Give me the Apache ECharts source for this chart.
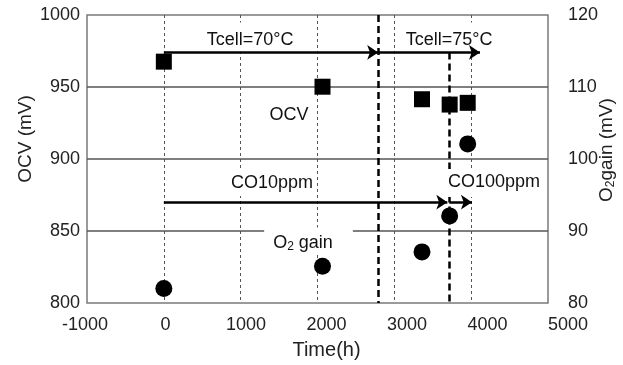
<!DOCTYPE html>
<html>
<head>
<meta charset="utf-8">
<script src="https://cdn.jsdelivr.net/npm/echarts@6/dist/echarts.min.js"></script>
<style>
  html, body { margin: 0; padding: 0; background: #fff; }
  #chart { width: 623px; height: 365px; }
</style>
</head>
<body>
<div id="chart"></div>
<script>
// ---------- data ----------
const hours = [0, 2065, 3360, 3720, 3955];
const ocvValues = [967.6, 950.2, 941.5, 937.8, 939.0];      // mV, left axis
const o2GainValues = [82.0, 85.1, 87.1, 92.1, 102.1];       // mV, right axis
const phaseLines = [2790, 3715];                            // thick dashed markers (h)
const tempArrows = [[0, 2790], [2790, 4115]];
const tempArrowLevel = 974;
const coArrows = [[0, 3690], [3715, 4010]];
const coArrowLevel = 870;
const noteTexts = ['Tcell=70°C', 'Tcell=75°C', 'OCV', 'CO10ppm', 'CO100ppm', 'O{sub|2} gain'];
const noteAnchors = [[1122, 984.7], [3712, 984.7], [1630, 930.6], [1408, 883.3], [4298, 883.3], [1883, 843.1]];

const FONT = '"Liberation Sans", Arial, sans-serif';
const INK = '#111';

const chart = echarts.init(document.getElementById('chart'), null, { renderer: 'canvas' });

// white boxes behind some notes hide the grid lines, like the original
const noteBoxes = [
  { backgroundColor: '#fff', padding: [8, 3, 3, 3] },
  { backgroundColor: '#fff', padding: [8, 4, 3, 4] },
  {},
  { backgroundColor: '#fff', padding: [4, 3, 4, 3] },
  { backgroundColor: '#fff', padding: [4, 3, 6, 3] },
  { backgroundColor: '#fff', padding: [6, 20, 2, 9] }
];

const plainNum = v => String(v);

const option = {
  animation: false,
  grid: [
    { left: 87, right: 75, top: 15, bottom: 62, show: true, borderColor: '#7a7a7a', borderWidth: 1.5, backgroundColor: 'transparent' },
    { left: 85, right: 55, top: 15, bottom: 62 }
  ],
  xAxis: [
    {
      gridIndex: 0, type: 'value', min: -1000, max: 5000, interval: 1000,
      axisLine: { show: false }, axisTick: { show: false }, axisLabel: { show: false },
      splitLine: { show: true, showMinLine: false, showMaxLine: false, lineStyle: { color: '#555', width: 1, type: [3, 3] } }
    },
    {
      gridIndex: 1, type: 'value', min: -1000, max: 5000, interval: 1000,
      axisLine: { show: false }, axisTick: { show: false }, splitLine: { show: false },
      axisLabel: { margin: 14, fontSize: 18, color: '#222', fontFamily: FONT, formatter: plainNum },
      name: 'Time(h)', nameLocation: 'middle', nameGap: 38,
      nameTextStyle: { fontSize: 20, color: '#222', fontFamily: FONT }
    }
  ],
  yAxis: [
    {
      gridIndex: 0, type: 'value', min: 800, max: 1000, interval: 50,
      axisLine: { show: false }, axisTick: { show: false },
      axisLabel: { margin: 7, fontSize: 18, color: '#222', fontFamily: FONT, formatter: plainNum },
      splitLine: { show: true, showMinLine: false, showMaxLine: false, lineStyle: { color: '#555', width: 1.5 } }
    },
    {
      gridIndex: 0, type: 'value', position: 'right', min: 80, max: 120, interval: 10,
      axisLine: { show: false }, axisTick: { show: false }, splitLine: { show: false },
      axisLabel: { margin: 20, fontSize: 18, color: '#222', fontFamily: FONT, formatter: plainNum }
    },
    { gridIndex: 1, type: 'value', min: 0, max: 1, show: false }
  ],
  graphic: [
    {
      type: 'text', x: 26, y: 139, rotation: Math.PI / 2,
      style: { text: 'OCV (mV)', fontSize: 19, fontFamily: FONT, fill: '#222', align: 'center', verticalAlign: 'middle' }
    },
    {
      type: 'text', x: 607, y: 150, rotation: Math.PI / 2,
      style: {
        text: 'O{s|2}gain (mV)', fontSize: 19, fontFamily: FONT, fill: '#222', align: 'center', verticalAlign: 'middle',
        rich: { s: { fontSize: 12, fontFamily: FONT, fill: '#222', verticalAlign: 'bottom', padding: [7, 0, 0, 0] } }
      }
    }
  ],
  series: [
    {
      name: 'OCV', type: 'scatter', xAxisIndex: 0, yAxisIndex: 0, z: 4,
      symbol: 'rect', symbolSize: 16, itemStyle: { color: '#000', opacity: 1 },
      data: hours.map((h, i) => [h, ocvValues[i]]),
      markLine: {
        silent: true, symbol: 'none', z: 2,
        label: { show: false },
        lineStyle: { color: '#000', width: 2.5, type: [7, 4] },
        data: [
          [{ coord: [phaseLines[0], 1000] }, { coord: [phaseLines[0], 800] }],
          [{ coord: [phaseLines[1], tempArrowLevel] }, { coord: [phaseLines[1], 800] }]
        ]
      }
    },
    {
      name: 'O2 gain', type: 'scatter', xAxisIndex: 0, yAxisIndex: 1, z: 4,
      symbol: 'circle', symbolSize: 17, itemStyle: { color: '#000', opacity: 1 },
      data: hours.map((h, i) => [h, o2GainValues[i]])
    },
    {
      name: 'notes', type: 'scatter', xAxisIndex: 0, yAxisIndex: 0, z: 6, silent: true,
      symbolSize: 1, itemStyle: { color: 'rgba(0,0,0,0)', opacity: 1 },
      label: {
        show: true, position: 'inside', fontSize: 18, color: INK, opacity: 1, fontFamily: FONT,
        formatter: p => noteTexts[p.dataIndex],
        rich: { sub: { fontSize: 12, color: INK, fontFamily: FONT, verticalAlign: 'bottom', padding: [7, 0, 0, 0] } }
      },
      data: noteAnchors.map((a, i) => ({ value: a, label: noteBoxes[i] }))
    },
    {
      // arrows drawn last so the note boxes never cover them
      name: 'arrows', type: 'scatter', xAxisIndex: 0, yAxisIndex: 0, z: 8, silent: true,
      data: [],
      markLine: {
        silent: true, symbol: ['none', 'arrow'], symbolSize: 11, z: 8,
        label: { show: false },
        lineStyle: { color: '#000', width: 2.5, type: 'solid', opacity: 1 },
        data: tempArrows.map(([a, b]) => [{ coord: [a, tempArrowLevel] }, { coord: [b, tempArrowLevel] }])
          .concat(coArrows.map(([a, b]) => [{ coord: [a, coArrowLevel] }, { coord: [b, coArrowLevel] }]))
      }
    }
  ]
};

chart.setOption(option);
</script>
</body>
</html>
